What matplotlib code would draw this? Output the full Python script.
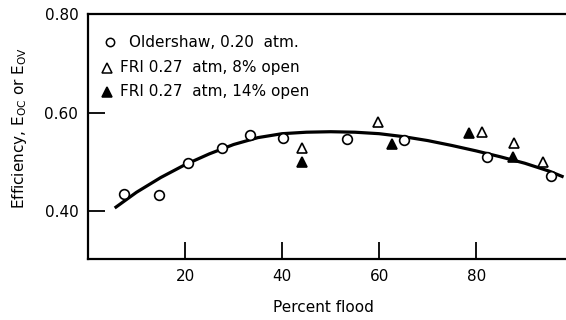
import matplotlib
matplotlib.use("Agg")
import matplotlib.pyplot as plt

# Data
old_x = [7.4, 14.7, 20.6, 27.6, 33.4, 40.2, 53.4, 65.2, 82.3, 95.5]
old_y = [0.434, 0.432, 0.497, 0.528, 0.554, 0.548, 0.546, 0.544, 0.510, 0.471]

fri8_x = [44.1, 59.8, 81.2, 87.8, 93.8]
fri8_y = [0.528, 0.581, 0.561, 0.538, 0.499]

fri14_x = [44.1, 62.7, 78.6, 87.6]
fri14_y = [0.499, 0.536, 0.558, 0.510]

curve_x = [5.5, 10, 15, 20, 25, 30, 35, 40, 45, 50, 55, 60, 65, 70, 75, 80, 85, 90, 95, 98]
curve_y = [0.406, 0.438, 0.468, 0.494, 0.516, 0.535, 0.549, 0.557, 0.560, 0.561,
           0.560, 0.557, 0.551, 0.543, 0.533, 0.522, 0.510, 0.497, 0.481, 0.469]

xticks = [20, 40, 60, 80]
yticks = [0.40, 0.60, 0.80]
ytick_labels = ["0.40", "0.60", "0.80"]

legend_labels = ["Oldershaw, 0.20  atm.", "FRI 0.27  atm, 8% open", "FRI 0.27  atm, 14% open"]

plt.rcParams['font.family'] = ['DejaVu Sans']

fig = plt.figure(figsize=(5.66, 3.2), dpi=100)
ax = fig.add_axes([0.1555, 0.19, 0.8445, 0.766])

ax.plot(curve_x, curve_y, color='black', lw=2.3, solid_capstyle='butt', zorder=2)
ax.plot(old_x, old_y, 'o', ms=7, mfc='white', mec='black', mew=1.2, ls='none', zorder=3)
ax.plot(fri8_x, fri8_y, '^', ms=7.5, mfc='white', mec='black', mew=1.2, ls='none', zorder=3)
ax.plot(fri14_x, fri14_y, '^', ms=7.5, mfc='black', mec='black', mew=1.2, ls='none', zorder=3)

ax.set_xlim(0, 98.5)
ax.set_ylim(0.302, 0.80)
ax.set_xticks(xticks)
ax.set_yticks(yticks)
ax.set_yticklabels(ytick_labels)
ax.tick_params(direction='in', length=12, width=1.3, labelsize=11, pad=7)
for s in ['left', 'bottom', 'top']:
    ax.spines[s].set_linewidth(1.6)
ax.spines['right'].set_visible(False)

fig.text(323 / 566, 1 - 307 / 320, "Percent flood", fontsize=11, ha='center', va='center')
fig.text(20 / 566, 1 - 128 / 320, r"Efficiency, E$_{\mathrm{OC}}$ or E$_{\mathrm{OV}}$",
         fontsize=11, ha='center', va='center', rotation=90)

# Legend drawn in axes coordinates
leg_rows_y = [0.886, 0.782, 0.684]
ax.plot([0.046], [leg_rows_y[0]], 'o', ms=6, mfc='white', mec='black', mew=1.1, transform=ax.transAxes, clip_on=False)
ax.plot([0.040], [leg_rows_y[1]], '^', ms=7, mfc='white', mec='black', mew=1.1, transform=ax.transAxes, clip_on=False)
ax.plot([0.040], [leg_rows_y[2]], '^', ms=7, mfc='black', mec='black', mew=1.1, transform=ax.transAxes, clip_on=False)
ax.text(0.086, leg_rows_y[0], legend_labels[0], transform=ax.transAxes, va='center', ha='left', fontsize=11)
ax.text(0.066, leg_rows_y[1], legend_labels[1], transform=ax.transAxes, va='center', ha='left', fontsize=11)
ax.text(0.066, leg_rows_y[2], legend_labels[2], transform=ax.transAxes, va='center', ha='left', fontsize=11)

fig.savefig("out.png", dpi=100)
